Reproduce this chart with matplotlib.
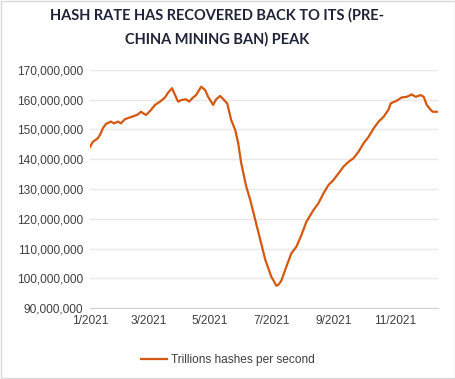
import numpy as np
import pandas as pd
from matplotlib import pyplot as plt
import matplotlib.dates as mdates
from matplotlib.ticker import FuncFormatter
from matplotlib.patches import Rectangle

# Значення (мільйони TH/s)
days = [0, 3, 8, 10, 13, 16, 21, 24, 28, 31, 35, 40, 45, 48, 51, 56, 61, 65,
        70, 75, 78, 82, 85, 88, 91, 96, 99, 103, 106, 111, 115, 118, 123,
        126, 130, 134, 137, 141, 145, 148, 151, 156, 160, 165, 170, 175,
        178, 181, 183, 186, 188, 191, 193, 196, 201, 206, 211, 216, 223,
        228, 233, 238, 243, 248, 253, 258, 263, 268, 273, 278, 283, 288,
        293, 298, 300, 306, 311, 316, 321, 325, 330, 333, 336, 340, 342, 346]
values = [144.0, 145.8, 147.0, 148.1, 150.3, 151.8, 152.6, 152.0, 152.6,
          152.0, 153.4, 154.0, 154.6, 155.0, 155.9, 154.8, 156.5, 158.2,
          159.3, 160.7, 162.3, 163.8, 161.5, 159.3, 159.8, 160.1, 159.3,
          160.7, 161.5, 164.3, 163.2, 160.9, 158.2, 160.1, 161.2, 159.8,
          158.7, 153.1, 149.8, 145.3, 138.6, 130.8, 126.3, 119.6, 112.9,
          106.2, 103.4, 100.5, 99.4, 97.5, 97.8, 99.2, 101.1, 103.9, 108.4,
          110.6, 114.5, 119.0, 122.9, 125.2, 128.5, 131.3, 133.0, 135.2,
          137.5, 139.1, 140.3, 142.5, 145.3, 147.5, 150.3, 152.6, 154.2,
          156.7, 158.7, 159.6, 160.7, 160.9, 161.7, 160.9, 161.5, 160.9,
          158.2, 156.5, 155.9, 155.9]
series_name = "Trillions hashes per second"
title = "HASH RATE HAS RECOVERED BACK TO ITS (PRE-\nCHINA MINING BAN) PEAK"
tick_months = [1, 3, 5, 7, 9, 11]

dates = pd.Timestamp("2021-01-01") + pd.to_timedelta(days, unit="D")
hash_rate = np.array(values) * 1e6

LINE = "#d4580f"
GRID = "#e9e9e9"
TEXT = "#404040"

plt.rcParams["font.family"] = ["Liberation Sans", "DejaVu Sans"]

fig = plt.figure(figsize=(4.56, 3.79), dpi=100)
ax = fig.add_axes([0.197, 0.187, 0.763, 0.629])

ax.plot(dates, hash_rate, color=LINE, lw=1.6, label=series_name)

ax.set_ylim(90e6, 170e6)
ax.set_yticks(np.arange(90e6, 170e6 + 1, 10e6))
ax.yaxis.set_major_formatter(FuncFormatter(lambda v, p: f"{v:,.0f}"))
ax.set_xlim(pd.Timestamp("2021-01-01"), pd.Timestamp("2021-12-14"))
ax.set_xticks([pd.Timestamp(2021, m, 1) for m in tick_months])
ax.xaxis.set_major_formatter(FuncFormatter(
    lambda v, p: f"{mdates.num2date(v).month}/{mdates.num2date(v).year}"))

ax.grid(axis="y", color=GRID, lw=1)
ax.set_axisbelow(True)
for s in ["top", "right", "left"]:
    ax.spines[s].set_visible(False)
ax.spines["bottom"].set_color("#d0d0d0")
ax.tick_params(length=0, labelsize=8.6, colors=TEXT, pad=5)

fig.text(0.477, 0.927, title, ha="center", va="center", fontsize=10.5,
         fontweight="bold", color="#1f2438", family=["Lato", "DejaVu Sans"],
         linespacing=1.85)

fig.legend(loc="center", bbox_to_anchor=(0.5, 0.05), frameon=False,
           fontsize=8.6, handlelength=2.2, handletextpad=0.3,
           labelcolor=TEXT)

fig.add_artist(Rectangle((0.002, 0.002), 0.996, 0.996, transform=fig.transFigure,
                         fill=False, edgecolor="#d9d9d9", lw=1))

fig.savefig("out.png", dpi=100)
